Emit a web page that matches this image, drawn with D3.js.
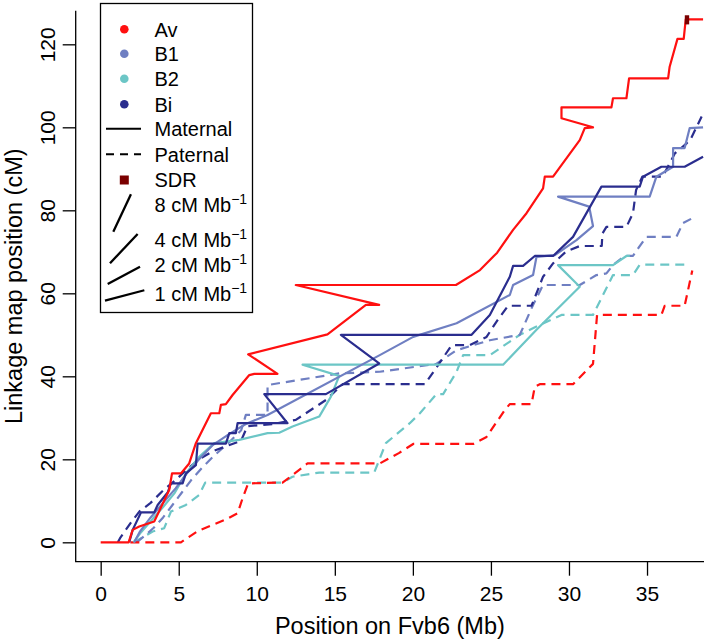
<!DOCTYPE html>
<html><head><meta charset="utf-8">
<script src="https://cdn.jsdelivr.net/npm/d3@7"></script>
<style>
html,body{margin:0;padding:0;background:#fff;}
svg text{font-family:"Liberation Sans",Arial,Helvetica,sans-serif;fill:#000;}
</style></head>
<body><svg id="c" width="709" height="640"></svg>
<script>
// ---------- data (Mb, cM) ----------
const avMaternal = [[0,0],[1.79,0],[2.05,3.0],[2.47,3.8],[3.43,5.0],[4.39,12.6],[4.57,16.6],[5.14,16.6],[5.67,19.0],[6.10,23.9],[7.06,31.1],[7.60,31.1],[7.70,33.1],[8.02,33.3],[8.45,35.5],[9.52,40.3],[9.84,40.6],[11.33,40.6],[9.45,45.3],[14.53,50.1],[16.99,57.2],[17.84,57.2],[12.5,62.0],[22.76,62.0],[24.3,65.6],[25.4,69.8],[26.42,75.3],[27.28,79.3],[28.34,85.3],[28.45,88.1],[28.98,88.1],[30.69,96.9],[31.01,99.8],[31.54,100.0],[29.52,102.2],[29.52,104.8],[32.72,104.8],[32.82,107.0],[33.68,107.0],[33.85,111.8],[36.35,111.8],[36.45,114.6],[36.95,121.3],[37.35,121.3],[37.48,126.0],[38.59,126.0]];
const avPaternal = [[1.9,0],[5.14,0],[6.21,2.7],[8.02,5.5],[8.77,7.0],[9.09,10.6],[9.45,14.2],[11.65,14.4],[12.29,16.2],[13.25,19.0],[17.88,19.0],[19.1,21.5],[20.02,23.7],[23.86,23.7],[24.72,25.4],[25.89,31.9],[26.21,33.3],[27.6,33.3],[27.81,37.5],[28.13,38.1],[30.26,38.1],[31.54,43.0],[31.8,54.8],[32.4,54.8],[35.92,54.8],[36.13,57.0],[37.41,57.0],[37.9,65.5]];
const b1Maternal = [[2.15,0],[2.5,2.5],[3.2,6],[4.0,9.5],[4.8,13],[5.5,16.5],[6.3,20],[7.2,23.5],[8.2,26],[9.3,28.5],[10.69,30.7],[17.88,45.1],[20.02,49.5],[22.8,52.8],[26.21,59.6],[26.42,62.0],[27.7,64.4],[27.92,68.8],[29.09,69.2],[30.48,72.8],[31.54,76.2],[31.29,80.9],[29.3,83.3],[35.17,83.3],[35.6,88.1],[36.67,90.5],[36.67,95.0],[37.41,95.0],[37.73,99.8],[38.59,100.0]];
const b1Paternal = [[2.3,0],[2.8,1.5],[3.4,3.5],[4.0,6],[4.6,9],[5.2,12],[5.8,15],[6.5,18],[7.3,21],[8.2,24],[9.0,27],[9.3,30.7],[10.69,30.7],[10.69,37.9],[15.28,40.7],[17.88,41.1],[21.5,43],[22.8,46.3],[24.93,48.7],[26.85,50],[27.7,57.2],[28.34,62],[30.69,62],[31.76,64.4],[32.4,64.8],[32.82,66.8],[33.57,69],[34.1,69],[34.43,70.8],[34.96,73.6],[36.88,73.6],[37.3,76.9],[38.1,78.5]];
const b2Maternal = [[2.1,0],[2.6,2.5],[3.3,5.5],[4.0,8.5],[4.72,11.8],[5.46,16.6],[6.31,20.6],[7.28,23.9],[8.88,24.7],[10.69,26.3],[11.44,26.4],[12.29,27.9],[14.0,30.3],[14.75,35.1],[15.28,40.1],[12.93,42.8],[25.78,42.8],[27.92,51.2],[30.69,61.6],[29.3,66.8],[32.82,66.8],[33.68,69.0],[33.9,69.0]];
const b2Paternal = [[2.15,0],[3.33,2.6],[4.07,3.4],[4.5,7.4],[5.46,9.0],[6.31,11.4],[6.7,14.4],[11.65,14.4],[12.29,15.8],[14.0,16.8],[17.52,16.8],[17.84,19.8],[18.27,23.9],[19.8,28.7],[20.45,31.1],[21.51,35.7],[21.94,35.7],[22.8,41.1],[23.22,45.1],[24.93,45.1],[26.85,50.0],[27.92,52.0],[29.52,54.8],[31.54,54.8],[32.82,64.4],[34.1,64.4],[34.53,66.9],[37.41,66.9]];
const biMaternal = [[1.83,0],[2.05,3.0],[2.58,7.2],[3.43,7.2],[3.65,9.0],[4.29,12.0],[4.5,14.2],[5.25,14.2],[5.46,16.6],[6.1,18.6],[6.21,23.8],[8.02,23.8],[8.24,26.3],[8.66,26.3],[8.77,28.7],[11.97,28.7],[10.48,35.7],[14.43,35.7],[17.84,43.1],[15.39,50.0],[23.76,50.0],[24.93,54.8],[26.21,64.0],[26.42,66.6],[27.06,66.6],[27.81,69.0],[28.98,69.0],[30.26,73.6],[32.08,85.7],[34.53,85.7],[34.74,88.1],[35.92,90.5],[37.41,90.5],[38.59,92.9]];
const biPaternal = [[1.1,0],[1.24,1.0],[1.98,5.0],[2.5,7.5],[3.2,9.5],[4.0,12.5],[4.8,15],[5.5,17.5],[6.3,20],[7.2,22],[8.3,23.5],[9.0,24.5],[9.4,28],[11.0,28.5],[12.5,29.5],[13.79,32.7],[14.43,34.3],[15.5,38.1],[20.77,38.1],[21.62,42.7],[22.48,47.5],[23.65,47.5],[24.72,49.5],[25.36,53.2],[26.1,57.0],[27.6,57.0],[28.34,64.0],[28.98,67.2],[29.8,70.0],[30.69,71.4],[32.1,71.4],[32.14,74.4],[32.4,76.0],[33.68,76.0],[34.1,79.3],[34.3,84.9],[34.7,88.1],[36.0,88.1],[36.78,93.7],[37.5,96],[37.84,97.5],[38.5,102.6]];
const sdrRegion = [37.42, 37.70, 124.8, 127.0]; // x0,x1,y0,y1
const xTicks = [0,5,10,15,20,25,30,35];
const yTicks = [0,20,40,60,80,100,120];
const groupNames = ["Av","B1","B2","Bi"];
const groupColors = ["#FF1010","#6F7FC2","#6CC6C6","#2A2D8E"];
const sdrColor = "#7A0000";
const rateValues = [8,4,2,1];

// ---------- scales ----------
const svg = d3.select("#c");
const x = d3.scaleLinear().domain([-1.6, 38.65]).range([75.7, 704]);
const y = d3.scaleLinear().domain([-4.67, 128.1]).range([561.7, 10.7]);

// frame (L-shaped)
svg.append("path").attr("d", `M${x.range()[0]},${y.range()[1]}V${y.range()[0]}H${x.range()[1]}`)
  .attr("fill","none").attr("stroke","#000").attr("stroke-width",1.3);

// axes
const xAxis = svg.append("g").attr("transform",`translate(0,${y.range()[0]})`)
  .call(d3.axisBottom(x).tickValues(xTicks).tickSize(14).tickSizeOuter(0).tickPadding(10).tickFormat(d3.format("d")));
xAxis.select(".domain").remove();
xAxis.selectAll("line").attr("stroke-width",1.3);
xAxis.selectAll("text").attr("font-size",21).attr("font-family","Liberation Sans, Arial").attr("fill","#000");

const yAxis = svg.append("g").attr("transform",`translate(${x.range()[0]},0)`)
  .call(d3.axisLeft(y).tickValues(yTicks).tickSize(13).tickSizeOuter(0).tickFormat(d3.format("d")));
yAxis.select(".domain").remove();
yAxis.selectAll("line").attr("stroke-width",1.3);
yAxis.selectAll("text").remove();
yAxis.selectAll(".tick").append("text")
  .attr("transform","translate(-20.5,0) rotate(-90)")
  .attr("text-anchor","middle").attr("font-size",21).attr("fill","#000")
  .text(d=>d);

// titles
svg.append("text").attr("x",(x.range()[0]+x.range()[1])/2).attr("y",634)
  .attr("text-anchor","middle").attr("font-size",23.5).text("Position on Fvb6 (Mb)");
svg.append("text").attr("transform",`translate(22,${(y.range()[0]+y.range()[1])/2}) rotate(-90)`)
  .attr("text-anchor","middle").attr("font-size",23.5).text("Linkage map position (cM)");

// lines
const line = d3.line().x(d=>x(d[0])).y(d=>y(d[1]));
const series = [
  {d:b2Paternal,c:2,dash:true},{d:b1Paternal,c:1,dash:true},{d:biPaternal,c:3,dash:true},{d:avPaternal,c:0,dash:true},
  {d:b2Maternal,c:2,dash:false},{d:b1Maternal,c:1,dash:false},{d:biMaternal,c:3,dash:false},{d:avMaternal,c:0,dash:false}
];
svg.append("g").selectAll("path").data(series).join("path")
  .attr("d",s=>line(s.d)).attr("fill","none")
  .attr("stroke",s=>groupColors[s.c]).attr("stroke-width",2.2)
  .attr("stroke-linejoin","round")
  .attr("stroke-dasharray",s=>s.dash?"9,6":null);

// SDR
svg.append("rect").attr("x",x(sdrRegion[0])).attr("y",y(sdrRegion[3]))
  .attr("width",x(sdrRegion[1])-x(sdrRegion[0])).attr("height",y(sdrRegion[2])-y(sdrRegion[3]))
  .attr("fill",sdrColor);

// ---------- legend ----------
const lg = svg.append("g");
lg.append("rect").attr("x",100.5).attr("y",3.5).attr("width",152).attr("height",309)
  .attr("fill","#fff").attr("stroke","#000").attr("stroke-width",1.3);
const textX = 154.5, fs = 20;
const rowsY = [29.3,53.8,78.8,104.3,128.8,154.3,180];
groupNames.forEach((g,i)=>{
  lg.append("circle").attr("cx",124.3).attr("cy",rowsY[i]).attr("r",4.3).attr("fill",groupColors[i]);
  lg.append("text").attr("x",textX).attr("y",rowsY[i]+7.2).attr("font-size",fs).text(g);
});
lg.append("line").attr("x1",106).attr("x2",141).attr("y1",rowsY[4]).attr("y2",rowsY[4]).attr("stroke","#000").attr("stroke-width",2);
lg.append("text").attr("x",textX).attr("y",rowsY[4]+7.2).attr("font-size",fs).text("Maternal");
lg.append("line").attr("x1",106).attr("x2",141).attr("y1",rowsY[5]).attr("y2",rowsY[5]).attr("stroke","#000").attr("stroke-width",2).attr("stroke-dasharray","8,6");
lg.append("text").attr("x",textX).attr("y",rowsY[5]+7.2).attr("font-size",fs).text("Paternal");
lg.append("rect").attr("x",119.8).attr("y",rowsY[6]-4.5).attr("width",9).attr("height",9).attr("fill",sdrColor);
lg.append("text").attr("x",textX).attr("y",rowsY[6]+7.2).attr("font-size",fs).text("SDR");

// rate lines drawn in data units through the scales
const k = (x(1)-x(0)); const ky = (y(0)-y(1));
const rateAnchors = [[113.3,231.7,1.13],[110,263.3,1.77],[107.7,284,2.07],[105,300.7,2.52]]; // start px, length in Mb
const rateTextY = [205,240,265,293.3];
rateValues.forEach((r,i)=>{
  const [sx,sy,len] = rateAnchors[i];
  lg.append("line").attr("x1",sx).attr("y1",sy).attr("x2",sx+len*k).attr("y2",sy-len*r*ky)
    .attr("stroke","#000").attr("stroke-width",2.3);
  const t = lg.append("text").attr("x",textX).attr("y",rateTextY[i]+7.2).attr("font-size",fs);
  t.append("tspan").text(r+" cM Mb");
  t.append("tspan").attr("font-size",14).attr("dy",-8).text("\u22121");
});
</script></body></html>
